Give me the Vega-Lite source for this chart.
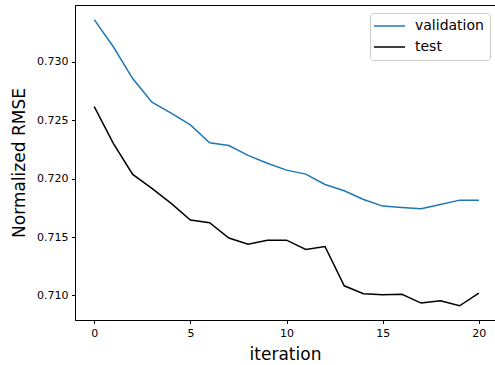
{
  "$schema": "https://vega.github.io/schema/vega-lite/v6.json",
  "width": 420,
  "height": 315,
  "autosize": "none",
  "padding": {"left": 75, "top": 5, "right": 0, "bottom": 45},
  "background": "white",
  "config": {
    "font": "DejaVu Sans",
    "view": {"stroke": "black", "strokeWidth": 1},
    "axis": {
      "grid": false,
      "domainColor": "black",
      "tickColor": "black",
      "labelColor": "black",
      "titleColor": "black",
      "labelFont": "DejaVu Sans",
      "titleFont": "DejaVu Sans",
      "labelFontSize": 11,
      "titleFontSize": 17,
      "titleFontWeight": "normal",
      "tickSize": 3.5,
      "labelPadding": 3.5
    }
  },
  "data": {
    "values": [
      {"iteration": 0, "series": "validation", "value": 0.73363},
      {"iteration": 1, "series": "validation", "value": 0.73128},
      {"iteration": 2, "series": "validation", "value": 0.72858},
      {"iteration": 3, "series": "validation", "value": 0.72655},
      {"iteration": 4, "series": "validation", "value": 0.72561},
      {"iteration": 5, "series": "validation", "value": 0.72461},
      {"iteration": 6, "series": "validation", "value": 0.72307},
      {"iteration": 7, "series": "validation", "value": 0.72284},
      {"iteration": 8, "series": "validation", "value": 0.72200},
      {"iteration": 9, "series": "validation", "value": 0.72132},
      {"iteration": 10, "series": "validation", "value": 0.72073},
      {"iteration": 11, "series": "validation", "value": 0.72039},
      {"iteration": 12, "series": "validation", "value": 0.71950},
      {"iteration": 13, "series": "validation", "value": 0.71896},
      {"iteration": 14, "series": "validation", "value": 0.71822},
      {"iteration": 15, "series": "validation", "value": 0.71765},
      {"iteration": 16, "series": "validation", "value": 0.71753},
      {"iteration": 17, "series": "validation", "value": 0.71742},
      {"iteration": 18, "series": "validation", "value": 0.71779},
      {"iteration": 19, "series": "validation", "value": 0.71816},
      {"iteration": 20, "series": "validation", "value": 0.71816},
      {"iteration": 0, "series": "test", "value": 0.72618},
      {"iteration": 1, "series": "test", "value": 0.72301},
      {"iteration": 2, "series": "test", "value": 0.72036},
      {"iteration": 3, "series": "test", "value": 0.71916},
      {"iteration": 4, "series": "test", "value": 0.71788},
      {"iteration": 5, "series": "test", "value": 0.71645},
      {"iteration": 6, "series": "test", "value": 0.71622},
      {"iteration": 7, "series": "test", "value": 0.71491},
      {"iteration": 8, "series": "test", "value": 0.71439},
      {"iteration": 9, "series": "test", "value": 0.71473},
      {"iteration": 10, "series": "test", "value": 0.71473},
      {"iteration": 11, "series": "test", "value": 0.71394},
      {"iteration": 12, "series": "test", "value": 0.71419},
      {"iteration": 13, "series": "test", "value": 0.71082},
      {"iteration": 14, "series": "test", "value": 0.71014},
      {"iteration": 15, "series": "test", "value": 0.71005},
      {"iteration": 16, "series": "test", "value": 0.71009},
      {"iteration": 17, "series": "test", "value": 0.70934},
      {"iteration": 18, "series": "test", "value": 0.70954},
      {"iteration": 19, "series": "test", "value": 0.70911},
      {"iteration": 20, "series": "test", "value": 0.71020}
    ]
  },
  "mark": {"type": "line", "strokeWidth": 1.5, "clip": true},
  "encoding": {
    "x": {
      "field": "iteration",
      "type": "quantitative",
      "scale": {"domain": [-1, 20.84], "nice": false, "zero": false},
      "axis": {"values": [0, 5, 10, 15, 20], "title": "iteration", "titlePadding": 8}
    },
    "y": {
      "field": "value",
      "type": "quantitative",
      "scale": {"domain": [0.70789, 0.73488], "nice": false, "zero": false},
      "axis": {"values": [0.71, 0.715, 0.72, 0.725, 0.73], "format": ".3f", "title": "Normalized RMSE", "titlePadding": 8}
    },
    "color": {
      "field": "series",
      "type": "nominal",
      "scale": {"domain": ["validation", "test"], "range": ["#1f77b4", "black"]},
      "legend": {
        "title": null,
        "orient": "none",
        "legendX": 295,
        "legendY": 8,
        "padding": 6,
        "fillColor": "rgba(255,255,255,0.8)",
        "strokeColor": "#cccccc",
        "cornerRadius": 3,
        "symbolType": "M-1.5,0H3.667",
        "symbolSize": 144,
        "symbolStrokeWidth": 1.5,
        "labelFontSize": 14,
        "labelFont": "DejaVu Sans",
        "labelColor": "black",
        "labelOffset": 25,
        "rowPadding": 7
      }
    }
  }
}
